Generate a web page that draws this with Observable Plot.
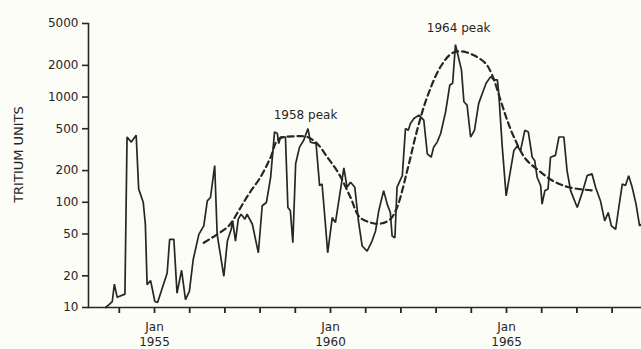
<!DOCTYPE html>
<html>
<head>
<meta charset="utf-8">
<script src="https://cdn.jsdelivr.net/npm/d3@7"></script>
<script src="https://cdn.jsdelivr.net/npm/@observablehq/plot@0.6"></script>
<style>
  html, body { margin: 0; padding: 0; background: #fdfdf8; }
  #chart svg { display: block; }
</style>
</head>
<body>
<div id="chart"></div>
<script>
// Monthly tritium samples (decimal year, tritium units)
const years = [
  1953.61,1953.70,1953.80,1953.86,1953.94,1954.16,1954.22,1954.34,1954.48,1954.55,
  1954.68,1954.74,1954.79,1954.89,1955.01,1955.09,1955.36,1955.43,1955.55,1955.64,
  1955.77,1955.88,1955.99,1956.10,1956.26,1956.40,1956.50,1956.59,1956.71,1956.78,
  1956.97,1957.07,1957.18,1957.22,1957.30,1957.38,1957.46,1957.57,1957.63,1957.78,
  1957.95,1958.06,1958.18,1958.30,1958.36,1958.41,1958.49,1958.53,1958.58,1958.72,
  1958.79,1958.86,1958.93,1959.01,1959.12,1959.24,1959.36,1959.43,1959.59,1959.69,
  1959.76,1959.84,1959.92,1960.05,1960.14,1960.38,1960.47,1960.57,1960.69,1960.80,
  1960.90,1961.04,1961.18,1961.28,1961.37,1961.51,1961.61,1961.70,1961.75,1961.83,
  1961.89,1962.04,1962.13,1962.21,1962.27,1962.37,1962.51,1962.65,1962.75,1962.86,
  1962.93,1963.03,1963.13,1963.27,1963.39,1963.47,1963.55,1963.63,1963.72,1963.79,
  1963.88,1963.98,1964.09,1964.21,1964.33,1964.42,1964.55,1964.64,1964.74,1964.78,
  1964.88,1964.99,1965.21,1965.30,1965.40,1965.52,1965.62,1965.73,1965.80,1965.87,
  1965.97,1966.01,1966.09,1966.18,1966.25,1966.39,1966.49,1966.63,1966.72,1966.82,
  1967.01,1967.17,1967.29,1967.43,1967.53,1967.67,1967.79,1967.89,1967.98,1968.10,
  1968.19,1968.29,1968.38,1968.47,1968.57,1968.68,1968.78,1968.83
];
const tritium = [
  10,10.6,11.4,16.7,12.5,13.4,417,373,433,134,
  100,61.9,16.5,18.0,11.4,11.2,21.3,44.4,44.4,13.7,
  22.6,11.9,14.2,28.6,49.6,59.6,103,111,223,49.6,
  19.8,42.8,55.4,66.5,42.8,69.1,77.1,69.1,77.1,61.8,
  33.1,92.6,99.6,173,300,466,450,361,417,417,
  89.2,82.9,41.2,232,334,388,502,373,361,144,
  149,71.6,33.1,71.6,64.1,212,139,155,139,64.1,
  38.4,34.4,42.8,53.4,82.9,129,96.1,79.9,47.8,46.0,
  139,179,502,483,560,625,673,603,289,268,
  334,373,450,723,1303,1352,3146,2431,1813,902,
  838,417,483,871,1124,1352,1564,1455,1455,1085,
  334,115,311,340,311,483,466,268,250,173,
  144,96.1,129,134,268,279,417,417,200,129,
  89.2,129,179,186,139,103,66.5,79.9,59.6,55.4,
  89.2,149,144,179,139,96.1,59.6,61.8
];

// Smoothed trend (dashed)
const trendYears = [
  1956.40,1956.78,1957.11,1957.39,1957.68,1958.01,1958.30,1958.52,1959.01,1959.34,
  1959.62,1959.91,1960.24,1960.57,1960.82,1961.14,1961.42,1961.70,1961.89,1962.18,
  1962.46,1962.75,1963.13,1963.46,1963.74,1964.07,1964.40,1964.59,1964.83,1965.02,
  1965.21,1965.54,1965.92,1966.30,1966.77,1967.53
];
const trendValues = [
  41.2,49.6,59.6,82.9,120,173,268,396,424,417,
  361,268,186,111,72.6,64.1,62.7,69.1,89.2,200,
  483,1007,1950,2619,2715,2495,2100,1624,936,603,
  417,259,200,161,139,129
];

// Axes
const yTicks = [10,20,50,100,200,500,1000,2000,5000];
const xTickYears = [1954,1955,1956,1957,1958,1959,1960,1961,1962,1963,1964,1965,1966,1967,1968];
const xLabelYears = [1955,1960,1965];
const xLabelMonth = "Jan";
const yLabel = "TRITIUM UNITS";

// Annotations
const peakLabels = ["1958 peak","1964 peak"];
const peakYears = [1959.29,1963.64];
const peakValues = [668,4490];

const series = years.map((x, i) => ({x, y: tritium[i]}));
const trend = trendYears.map((x, i) => ({x, y: trendValues[i]}));
const peaks = peakLabels.map((t, i) => ({t, x: peakYears[i], y: peakValues[i]}));

const ink = "#262626";
const W = 641, ML = 88, MR = 0;
const frameW = W - ML - MR;
const yTickLen = 6;

const chart = Plot.plot({
  width: W,
  height: 349,
  marginLeft: ML,
  marginRight: MR,
  marginTop: 23,
  marginBottom: 42,
  style: {
    fontFamily: "'DejaVu Sans', sans-serif",
    fontSize: "12px",
    background: "#fdfdf8",
    color: ink,
    overflow: "visible"
  },
  x: {domain: [1953.125, 1968.835]},
  y: {type: "log", domain: [10, 5000], axis: null},
  marks: [
    Plot.frame({anchor: "left", stroke: ink, strokeWidth: 1.6}),
    Plot.frame({anchor: "bottom", stroke: ink, strokeWidth: 1.6}),
    // y ticks (short, pointing left of the axis line)
    Plot.tickY(yTicks, {
      y: d => d, stroke: ink, strokeWidth: 1.6,
      insetRight: frameW - yTickLen, dx: -yTickLen
    }),
    Plot.text(yTicks, {
      y: d => d, text: d => String(d), frameAnchor: "left",
      textAnchor: "end", dx: -10, fontSize: 12, fill: ink, letterSpacing: "0.6px"
    }),
    Plot.axisX(xTickYears, {
      tickSize: 6, strokeWidth: 1.8, tickFormat: () => "", label: null
    }),
    Plot.axisX(xLabelYears, {
      tickSize: 0, tickPadding: 13, label: null,
      tickFormat: d => `${xLabelMonth}\n${d}`,
      lineHeight: 1.25, fontSize: 12, letterSpacing: "0.7px"
    }),
    Plot.text([yLabel], {
      frameAnchor: "left", rotate: -90, textAnchor: "middle", dx: -70, dy: -11,
      fontSize: 13, fill: ink, letterSpacing: "1.7px"
    }),
    Plot.line(trend, {
      x: "x", y: "y", curve: "catmull-rom",
      stroke: ink, strokeWidth: 2.2, strokeDasharray: "6,4"
    }),
    Plot.line(series, {
      x: "x", y: "y", stroke: ink, strokeWidth: 1.7, strokeLinejoin: "miter"
    }),
    Plot.text(peaks, {
      x: "x", y: "y", text: "t", fontSize: 12, fill: ink, letterSpacing: "0.6px"
    })
  ]
});

document.getElementById("chart").append(chart);
</script>
</body>
</html>
